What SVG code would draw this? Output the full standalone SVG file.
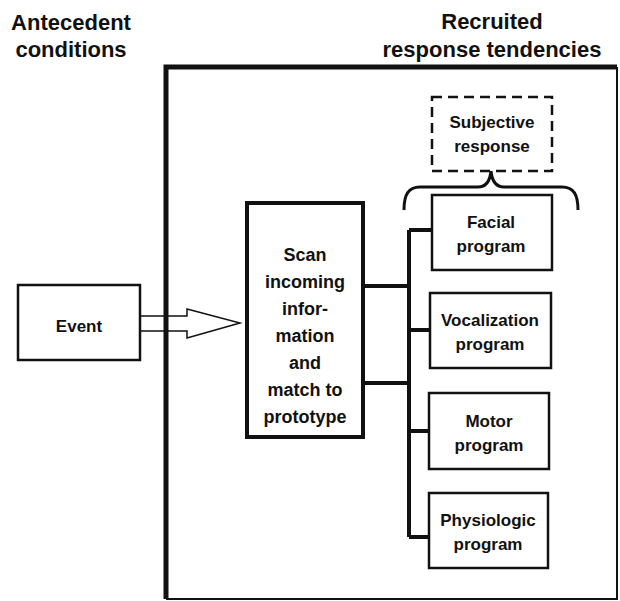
<svg xmlns="http://www.w3.org/2000/svg" width="620" height="601" viewBox="0 0 620 601">
<style>
text{font-family:"Liberation Sans",Arial,sans-serif;font-weight:bold;fill:#111;text-anchor:middle}
.hdr{font-size:22px}
.lbl{font-size:17px}
.scan{font-size:18px}
.box{fill:#fff;stroke:#111;stroke-width:2.5}
.conn{fill:none;stroke:#111;stroke-width:4}
</style>
<rect width="620" height="601" fill="#fff"/>
<g id="headers">
<text class="hdr" x="71" y="30">Antecedent</text>
<text class="hdr" x="71" y="57">conditions</text>
<text class="hdr" x="492" y="29">Recruited</text>
<text class="hdr" x="492" y="57">response tendencies</text>
</g>
<g id="arrow">
<path d="M140,316 L187,316 L187,309 L240,323 L187,338 L187,331 L140,331" fill="#fff" stroke="#111" stroke-width="1.5" stroke-linejoin="miter"/>
</g>
<g id="frame">
<path d="M166,599 L617,599 L617,67" fill="none" stroke="#111" stroke-width="2"/>
<path d="M166,599 L166,67 L617,67" fill="none" stroke="#111" stroke-width="5"/>
</g>
<g id="event">
<rect class="box" x="18" y="285" width="122" height="75"/>
<text class="lbl" x="79" y="332">Event</text>
</g>
<g id="connectors">
<path class="conn" d="M363,286 H409 M363,383 H409 M409,230 V537 M409,230 H432 M409,330 H430 M409,431 H429 M409,537 H429"/>
<path d="M404,210 C404,195 408,187 420,187 L478,187 C486,187 490,181 491,171 C492,181 496,187 504,187 L562,187 C574,187 578,195 578,210" fill="none" stroke="#111" stroke-width="3"/>
</g>
<g id="scan">
<rect x="247" y="203" width="116" height="234" fill="#fff" stroke="#111" stroke-width="4"/>
<text class="scan" x="305" y="261">Scan</text>
<text class="scan" x="305" y="288">incoming</text>
<text class="scan" x="305" y="315">infor-</text>
<text class="scan" x="305" y="342">mation</text>
<text class="scan" x="305" y="369">and</text>
<text class="scan" x="305" y="396">match to</text>
<text class="scan" x="305" y="423">prototype</text>
</g>
<g id="subjective">
<rect x="432" y="97" width="120" height="74" fill="#fff" stroke="#111" stroke-width="2.5" stroke-dasharray="10,6"/>
<text class="lbl" x="492" y="128">Subjective</text>
<text class="lbl" x="492" y="152">response</text>
</g>
<g id="facial">
<rect class="box" x="432" y="195" width="120" height="75"/>
<text class="lbl" x="491" y="228">Facial</text>
<text class="lbl" x="491" y="252">program</text>
</g>
<g id="vocalization">
<rect class="box" x="430" y="293" width="121" height="75"/>
<text class="lbl" x="490" y="326">Vocalization</text>
<text class="lbl" x="490" y="350">program</text>
</g>
<g id="motor">
<rect class="box" x="429" y="393" width="120" height="76"/>
<text class="lbl" x="489" y="427">Motor</text>
<text class="lbl" x="489" y="451">program</text>
</g>
<g id="physiologic">
<rect class="box" x="429" y="493" width="119" height="75"/>
<text class="lbl" x="488" y="526">Physiologic</text>
<text class="lbl" x="488" y="550">program</text>
</g>
</svg>
